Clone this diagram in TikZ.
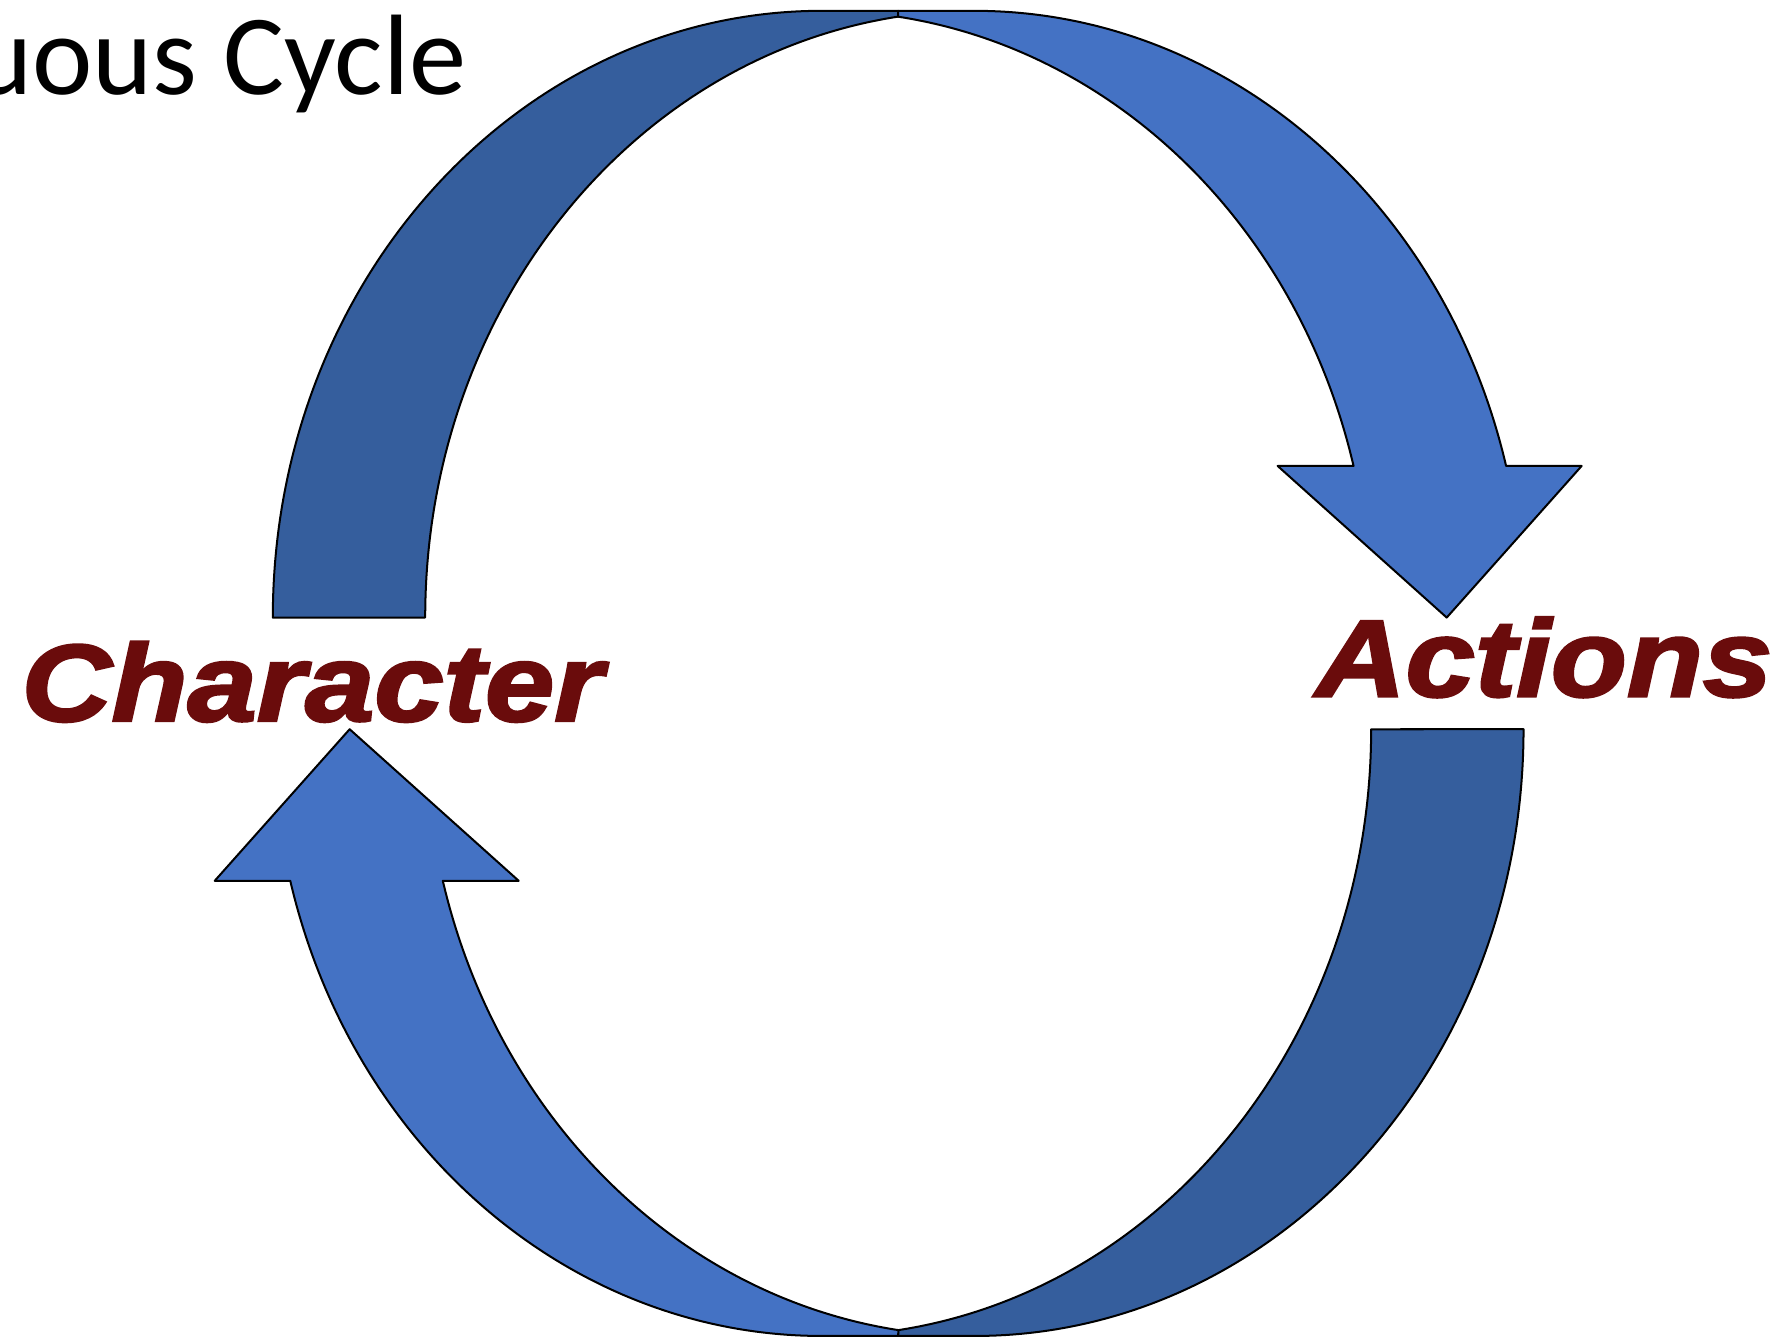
\documentclass[tikz,border=0pt]{standalone}
\usepackage{fontspec}
\setmainfont{Carlito}
\newfontfamily\wordfont[FakeStretch=1.14, BoldItalicFeatures={FakeBold=2.5}]{Liberation Sans}
\definecolor{arrowlight}{RGB}{68,114,196}
\definecolor{arrowdark}{RGB}{53,94,157}
\definecolor{wordred}{RGB}{106,12,12}

\begin{document}
\begin{tikzpicture}[x=0.01cm, y=0.01cm,
    front/.style={fill=arrowlight, draw=black, line width=0.5pt, line join=round},
    back/.style={fill=arrowdark, draw=black, line width=0.5pt, line join=round},
    word/.style={anchor=base, inner sep=0pt, text=wordred, font=\wordfont\bfseries\itshape\fontsize{27.2}{32}\selectfont}]
    \useasboundingbox (-786.8,-581.1) rectangle (781.2,589.9);
    \clip (-786.8,-581.1) rectangle (781.2,589.9);

    \node[anchor=base east, inner sep=0pt, font=\fontsize{28.5}{34}\selectfont] (title) at (-377.5,506.9) {Continuous Cycle};

    \foreach \turn in {0,180} {
      \begin{scope}[rotate=\turn]
        \filldraw[back] (-547.8,48.9) arc[start angle=180, end angle=90, x radius=481, y radius=531.5]
          -- (0,580.4) -- (0,575.3) arc[start angle=97.97, end angle=180, x radius=481, y radius=531.5] -- cycle;
        \filldraw[front] (0,580.4) -- (66.8,580.4) arc[start angle=90, end angle=14.47, x radius=481, y radius=531.5]
          -- (598.7,181.7) -- (480.5,48.9) -- (332.4,181.7) -- (398.9,181.7)
          arc[start angle=14.47, end angle=82.03, x radius=481, y radius=531.5] -- cycle;
      \end{scope}
    }

    \node[word] (character) at (-513.3,-41.6) {Character};
    \node[word] (actions) at (565.7,-20.1) {Actions};
\end{tikzpicture}
\end{document}
